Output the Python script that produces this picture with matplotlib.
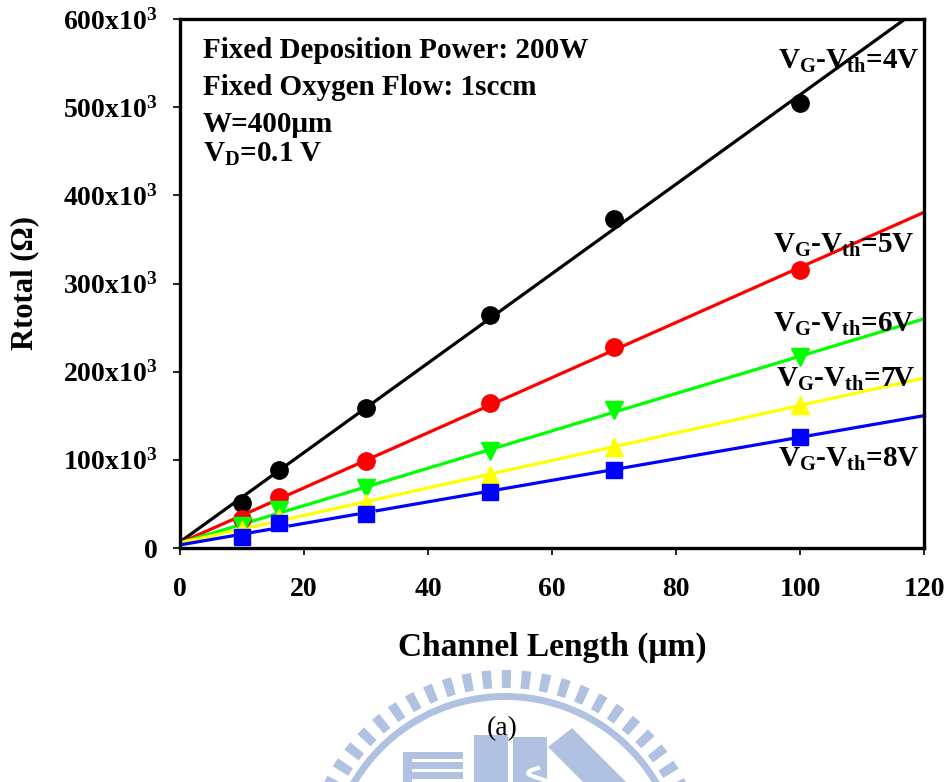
import numpy as np
import matplotlib.pyplot as plt
from matplotlib.patches import Polygon, Rectangle
from matplotlib.ticker import FuncFormatter

plt.rcParams['font.family'] = ['Liberation Serif', 'DejaVu Serif']
plt.rcParams['mathtext.fontset'] = 'custom'
plt.rcParams['mathtext.rm'] = 'Liberation Serif:bold'
plt.rcParams['mathtext.bf'] = 'Liberation Serif:bold'
plt.rcParams['mathtext.it'] = 'Liberation Serif:bold'
plt.rcParams['mathtext.default'] = 'bf'

# channel length (um) and total resistance (kOhm) per gate overdrive
length = [10, 16, 30, 50, 70, 100]
r_4v = [51, 89, 159, 264, 373, 505]
r_5v = [33, 58, 99, 164, 228, 315]
r_6v = [25, 43, 68, 110, 156, 217]
r_7v = [20, 34, 51, 83, 115, 162]
r_8v = [13, 28, 38, 64, 89, 126]
labels = ['4V', '5V', '6V', '7V', '8V']
colors = ['black', '#ff0000', '#00ff00', '#ffff00', '#0000ff']
markers = ['o', 'o', 'v', '^', 's']
msizes = [12.5, 12.5, 13, 13, 11]
label_xy = [(96.5, 543), (95.6, 335), (95.6, 245), (96.1, 183), (96.5, 92)]

fig = plt.figure(figsize=(9.5, 7.82), dpi=100)

# faint logo in the background (pixel coordinates)
bg = fig.add_axes([0, 0, 1, 1], zorder=-1)
bg.set_xlim(0, 950)
bg.set_ylim(782, 0)
bg.axis('off')
wm = '#b0c1e1'
cx, cy = 505, 872
for a in np.arange(2.0, 180, 5.75):
    t = np.radians(np.linspace(a, a + 2.7, 6))
    outer = np.c_[cx + 202 * np.cos(t), cy - 202 * np.sin(t)]
    inner = np.c_[cx + 184 * np.cos(t[::-1]), cy - 184 * np.sin(t[::-1])]
    bg.add_patch(Polygon(np.vstack([outer, inner]), closed=True, color=wm, lw=0))
t = np.radians(np.linspace(0, 180, 200))
ring = np.vstack([np.c_[cx + 179 * np.cos(t), cy - 179 * np.sin(t)],
                  np.c_[cx + 172 * np.cos(t[::-1]), cy - 172 * np.sin(t[::-1])]])
bg.add_patch(Polygon(ring, closed=True, color=wm, lw=0))
bg.add_patch(Rectangle((403, 752), 9, 40, color=wm, lw=0))
for yb in [752, 762, 772, 782]:
    bg.add_patch(Rectangle((412, yb), 51, 7, color=wm, lw=0))
bg.add_patch(Rectangle((474, 735), 34, 60, color=wm, lw=0))
bg.add_patch(Rectangle((513, 737), 34, 60, color=wm, lw=0))
bg.add_patch(Polygon([(548, 747), (572, 728), (650, 806), (626, 825)], closed=True, color=wm, lw=0))
s_t = np.linspace(0, 1, 40)
bg.plot(538 - 10 * np.sin(2 * np.pi * s_t), 768 + 20 * s_t, color='white', lw=3)

ax = fig.add_axes([180 / 950, 234 / 782, 744 / 950, 529 / 782])
series = [r_4v, r_5v, r_6v, r_7v, r_8v]
xfit = np.array([0, 120])
for ys, c, m, ms in zip(series, colors, markers, msizes):
    k, b = np.polyfit(length, ys, 1)
    ax.plot(xfit, (k * xfit + b) * 1e3, color=c, lw=2.3, zorder=2)
    ax.plot(length, np.array(ys) * 1e3, ls='none', marker=m, color=c, ms=ms, zorder=3)

for lab, (lx, ly) in zip(labels, label_xy):
    ax.text(lx, ly * 1e3, r'V$_\mathbf{G}$-V$_\mathbf{th}$=' + lab, fontsize=21,
            fontweight='bold', va='baseline', ha='left', zorder=4)

info = ['Fixed Deposition Power: 200W', 'Fixed Oxygen Flow: 1sccm',
        'W=400\u03bcm', r'V$_\mathbf{D}$=0.1 V']
info_base = [58, 95, 132, 162]
for s, yb in zip(info, info_base):
    ax.text(23 / 744, (548 - yb) / 529, s, transform=ax.transAxes,
            fontsize=21, fontweight='bold', va='baseline')

ax.set_xlim(0, 120)
ax.set_ylim(0, 600e3)
ax.set_xticks(np.arange(0, 121, 20))
ax.set_yticks(np.arange(0, 600001, 100000))
ax.yaxis.set_major_formatter(FuncFormatter(
    lambda v, p: '0' if v == 0 else '%dx10$^3$' % (v / 1000)))
for s in ax.spines.values():
    s.set_linewidth(2.4)
ax.tick_params(axis='both', direction='out', length=5, width=1.2, labelsize=20)
ax.tick_params(axis='x', pad=16)
ax.tick_params(axis='y', pad=11)
for lbl in ax.get_xticklabels() + ax.get_yticklabels():
    lbl.set_fontweight('bold')

ax.set_xlabel('Channel Length (\u03bcm)', fontsize=24, fontweight='bold')
ax.set_ylabel('Rtotal (\u03a9)', fontsize=22, fontweight='bold')
ax.xaxis.set_label_coords(0.5, (548 - 647) / 529)
ax.xaxis.label.set_va('center')
ax.yaxis.set_label_coords((25 - 180) / 744, 0.5)
ax.yaxis.label.set_va('center')

fig.text(502 / 950, 1 - 729 / 782, '(a)', fontsize=20, ha='center', va='center')

fig.savefig('out.png', dpi=100)
